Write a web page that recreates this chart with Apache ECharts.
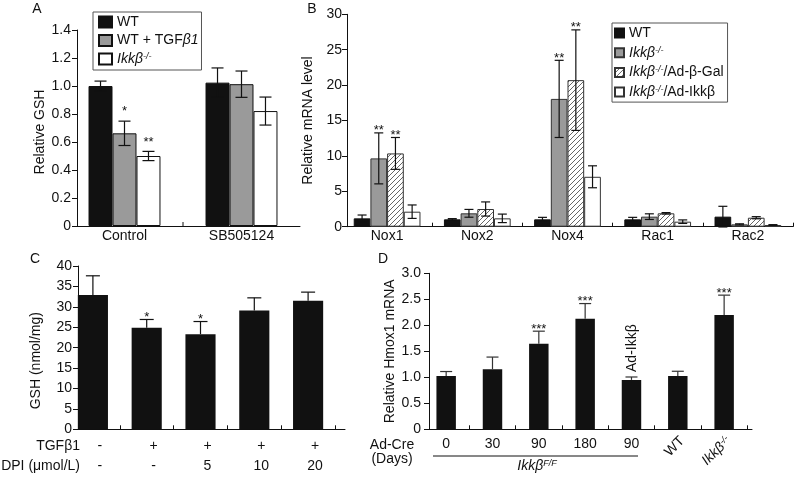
<!DOCTYPE html>
<html><head><meta charset="utf-8">
<script src="https://cdn.jsdelivr.net/npm/echarts@6/dist/echarts.min.js"></script>
<style>html,body{margin:0;padding:0;background:#fff}#c{width:794px;height:477px}</style>
</head><body><div id="c"></div>
<script>
// ---------- Panel A ----------
var aCats = ['Control', 'SB505124'];
var aWT = [1.0, 1.024];     var aWTErr = [0.035, 0.105];
var aTGF = [0.662, 1.013];  var aTGFErr = [0.087, 0.094];
var aKO = [0.5, 0.821];     var aKOErr = [0.033, 0.1];
var aTGFStar = ['*', ''];   var aKOStar = ['**', ''];
// ---------- Panel B ----------
var bCats = ['Nox1', 'Nox2', 'Nox4', 'Rac1', 'Rac2'];
var bWT  = [1.18, 1.04, 1.04, 1.04, 1.42];   var bWTErr  = [0.47, 0.1, 0.28, 0.28, 1.46];
var bKO  = [9.65, 1.89, 18.05, 1.42, 0.33];  var bKOErr  = [3.6, 0.55, 5.45, 0.4, 0.08];
var bGal = [10.35, 2.5, 20.7, 1.89, 1.27];   var bGalErr = [2.25, 1.0, 7.1, 0.1, 0.15];
var bAd  = [2.12, 1.18, 7.05, 0.71, 0.24];   var bAdErr  = [0.95, 0.6, 1.55, 0.25, 0.05];
var bKOStar  = ['**', '', '**', '', ''];
var bGalStar = ['**', '', '**', '', ''];
// ---------- Panel C ----------
var cTGF = ['-', '+', '+', '+', '+'];
var cDPI = ['-', '-', '5', '10', '20'];
var cGSH = [32.9, 24.9, 23.3, 29.1, 31.5];
var cErr = [4.7, 2.0, 3.1, 3.1, 2.1];
var cStar = ['', '*', '*', '', ''];
// ---------- Panel D ----------
var dCats = ['0', '30', '90', '180', '90', 'WT', 'Ikkβ-/-'];
var dHmox = [1.026, 1.154, 1.647, 2.128, 0.95, 1.026, 2.2];
var dErr  = [0.085, 0.235, 0.24, 0.29, 0.056, 0.09, 0.38];
var dStar = ['', '', '***', '***', '', '', '***'];
var dNote = ['', '', '', '', 'Ad-Ikkβ', '', ''];

var FONT = '"Liberation Sans", Arial, sans-serif';
var INK = '#111';
var GRAY = '#9a9a9a';
var RICH = {
  i: {fontStyle: 'italic', fontSize: 14, fontFamily: FONT, color: INK, fill: INK},
  s: {fontStyle: 'italic', fontSize: 9, fontFamily: FONT, color: INK, fill: INK, verticalAlign: 'top'}
};
function rich(t) {
  return t.replace('Ikkβ-/-', '{i|Ikkβ}{s|-/-}');
}

// hatch pattern
var pc = document.createElement('canvas'); pc.width = 5; pc.height = 5;
var pctx = pc.getContext('2d');
pctx.fillStyle = '#fff'; pctx.fillRect(0, 0, 5, 5);
pctx.strokeStyle = '#666'; pctx.lineWidth = 1;
pctx.beginPath();
pctx.moveTo(0, 5); pctx.lineTo(5, 0);
pctx.moveTo(-1, 1); pctx.lineTo(1, -1);
pctx.moveTo(4, 6); pctx.lineTo(6, 4);
pctx.stroke();
var HATCH = {image: pc, repeat: 'repeat'};

function errSeries(o) {
  return {
    type: 'custom', xAxisIndex: o.axis, yAxisIndex: o.axis, z: 5, silent: true, clip: false,
    data: o.vals.map(function (v, i) { return [i, v]; }),
    renderItem: function (params, api) {
      var i = params.dataIndex, v = o.vals[i], e = o.errs[i];
      var base = api.coord([i, v]);
      var band = api.size([1, 0])[0];
      var bw = band * (1 - o.gap) / o.n;
      var x = base[0] + (o.pos - (o.n - 1) / 2) * bw;
      var top = api.coord([i, v + e])[1];
      var bot = o.both ? api.coord([i, v - e])[1] : base[1];
      var st = {stroke: o.color || INK, lineWidth: 1.2};
      var ch = [];
      if (e > 0) {
        ch.push({type: 'line', shape: {x1: x, y1: top, x2: x, y2: bot}, style: st});
        ch.push({type: 'line', shape: {x1: x - o.cap / 2, y1: top, x2: x + o.cap / 2, y2: top}, style: st});
        if (o.both) ch.push({type: 'line', shape: {x1: x - o.cap / 2, y1: bot, x2: x + o.cap / 2, y2: bot}, style: st});
      }
      if (o.stars && o.stars[i]) {
        ch.push({type: 'text', x: x, y: top - o.starGap, style: {text: o.stars[i], align: 'center', verticalAlign: 'middle', font: '13px ' + FONT, fill: INK}});
      }
      if (o.extra) o.extra(ch, i, x, top, base, api);
      return {type: 'group', children: ch};
    }
  };
}

function frameY(g, min, max, interval, name, gap, margin, fmt, pad) {
  return {
    type: 'value', gridIndex: g, min: min, max: max, interval: interval,
    name: name, nameLocation: 'middle', nameGap: gap,
    nameTextStyle: {fontSize: 14, color: INK, fontFamily: FONT, padding: pad || 0},
    axisLine: {show: true, lineStyle: {color: INK, width: 1}},
    axisTick: {show: true, inside: false, length: 5, lineStyle: {color: INK, width: 1}},
    axisLabel: {fontSize: 14, color: INK, fontFamily: FONT, margin: margin, formatter: fmt},
    splitLine: {show: false}
  };
}
function dataY(g, min, max) {
  return {type: 'value', gridIndex: g, min: min, max: max, show: false, splitLine: {show: false}};
}
function frameX(g) {
  return {type: 'value', gridIndex: g, min: 0, max: 1, axisLine: {show: true, onZero: false, lineStyle: {color: INK, width: 1}},
    axisTick: {show: false}, axisLabel: {show: false}, splitLine: {show: false}};
}
function dataX(g, cats, label, showTicks) {
  return {
    type: 'category', gridIndex: g, data: cats,
    axisLine: {show: false},
    axisTick: {show: showTicks, inside: true, length: 4, interval: function (idx) { return idx !== 0; }, lineStyle: {color: INK, width: 1}},
    axisLabel: label, splitLine: {show: false}
  };
}
var dec1 = function (v) { return v === 0 ? '0' : v.toFixed(1); };
var int0 = function (v) { return String(v); };

var grids = [
  {left: 77, top: 30, width: 223, height: 196},      // 0 A frame
  {left: 66, top: 30, width: 234, height: 196},      // 1 A data
  {left: 347, top: 14.3, width: 446, height: 212.4}, // 2 B frame
  {left: 342, top: 14.3, width: 451, height: 212.4}, // 3 B data
  {left: 78, top: 266, width: 267, height: 163.3},   // 4 C frame
  {left: 66, top: 266, width: 269, height: 163.3},   // 5 C data
  {left: 429, top: 273.3, width: 323, height: 156},  // 6 D frame
  {left: 423, top: 273.3, width: 324.3, height: 156} // 7 D data
];
grids.forEach(function (g) { g.containLabel = false; g.outerBoundsMode = 'none'; });

var lblBase = {fontSize: 14, color: INK, fontFamily: FONT};

var option = {
  animation: false,
  textStyle: {fontFamily: FONT},
  grid: grids,
  xAxis: [
    frameX(0),
    dataX(1, aCats, Object.assign({margin: 3}, lblBase), false),
    frameX(2),
    dataX(3, bCats, Object.assign({margin: 2}, lblBase), true),
    frameX(4),
    dataX(5, cTGF.map(function (t, i) { return t + '\n' + cDPI[i]; }),
      Object.assign({margin: 7, lineHeight: 20, padding: [0, 0, 0, 14]}, lblBase), true),
    frameX(6),
    dataX(7, dCats, Object.assign({margin: 8, formatter: function (v, i) { return i >= 5 ? '' : v; }}, lblBase), true)
  ],
  yAxis: [
    frameY(0, 0, 1.4, 0.2, 'Relative GSH', 29, 6, dec1, [0, 8, 0, 0]),
    dataY(1, 0, 1.4),
    frameY(2, 0, 30, 5, 'Relative mRNA level', 23, 5, int0),
    dataY(3, 0, 30),
    frameY(4, 0, 40, 5, 'GSH (nmol/mg)', 35, 6, int0, [0, 26, 0, 0]),
    dataY(5, 0, 40),
    frameY(6, 0, 3, 0.5, 'Relative Hmox1 mRNA', 26, 8, dec1),
    dataY(7, 0, 3)
  ],
  legend: [
    {
      data: ['aWT', 'aTGF', 'aKO'], orient: 'vertical', left: 93, top: 12,
      padding: [3, 3, 4, 5], itemWidth: 13, itemHeight: 11, itemGap: 4.5, icon: 'rect',
      selectedMode: false, borderColor: '#555', borderWidth: 1,
      formatter: function (n) { return {aWT: 'WT', aTGF: 'WT + TGF{i|β1}', aKO: rich('Ikkβ-/-')}[n]; },
      textStyle: {fontSize: 14, fontFamily: FONT, color: INK, lineHeight: 14, rich: RICH}
    },
    {
      data: ['bWT', 'bKO', 'bGal', 'bAd'], orient: 'vertical', left: 612, top: 23,
      padding: [3, 4, 3, 2], itemWidth: 9, itemHeight: 9, itemGap: 5.7, icon: 'rect',
      selectedMode: false, borderColor: '#555', borderWidth: 1,
      formatter: function (n) {
        return {bWT: 'WT', bKO: rich('Ikkβ-/-'), bGal: rich('Ikkβ-/-') + '/Ad-β-Gal', bAd: rich('Ikkβ-/-') + '/Ad-Ikkβ'}[n];
      },
      textStyle: {fontSize: 14, fontFamily: FONT, color: INK, lineHeight: 14, rich: RICH}
    }
  ],
  graphic: [
    {type: 'text', x: 37, y: 9, style: {text: 'A', font: '14px ' + FONT, fill: INK, align: 'center', verticalAlign: 'middle'}},
    {type: 'text', x: 312, y: 9, style: {text: 'B', font: '14px ' + FONT, fill: INK, align: 'center', verticalAlign: 'middle'}},
    {type: 'text', x: 35, y: 259, style: {text: 'C', font: '14px ' + FONT, fill: INK, align: 'center', verticalAlign: 'middle'}},
    {type: 'text', x: 383, y: 259, style: {text: 'D', font: '14px ' + FONT, fill: INK, align: 'center', verticalAlign: 'middle'}},
    {type: 'text', x: 80, y: 446, style: {text: 'TGFβ1', font: '14px ' + FONT, fill: INK, align: 'right', verticalAlign: 'middle'}},
    {type: 'text', x: 80, y: 466, style: {text: 'DPI (μmol/L)', font: '14px ' + FONT, fill: INK, align: 'right', verticalAlign: 'middle'}},
    {type: 'text', x: 392, y: 445, style: {text: 'Ad-Cre', font: '14px ' + FONT, fill: INK, align: 'center', verticalAlign: 'middle'}},
    {type: 'text', x: 392, y: 459, style: {text: '(Days)', font: '14px ' + FONT, fill: INK, align: 'center', verticalAlign: 'middle'}},
    {type: 'line', shape: {x1: 433, y1: 456, x2: 638, y2: 456}, style: {stroke: INK, lineWidth: 1}},
    {type: 'text', x: 537, y: 466, style: {text: '{i|Ikkβ}{s|F/F}', rich: RICH, font: '14px ' + FONT, fill: INK, align: 'center', verticalAlign: 'middle'}}
  ],
  series: [
    // A
    {type: 'bar', name: 'aWT', xAxisIndex: 1, yAxisIndex: 1, data: aWT, barGap: '0%', barCategoryGap: '38.5%',
      itemStyle: {color: INK, borderColor: INK, borderWidth: 1}},
    {type: 'bar', name: 'aTGF', xAxisIndex: 1, yAxisIndex: 1, data: aTGF, barGap: '0%', barCategoryGap: '38.5%',
      itemStyle: {color: GRAY, borderColor: INK, borderWidth: 1}},
    {type: 'bar', name: 'aKO', xAxisIndex: 1, yAxisIndex: 1, data: aKO, barGap: '0%', barCategoryGap: '38.5%',
      itemStyle: {color: '#fff', borderColor: INK, borderWidth: 1}},
    errSeries({axis: 1, vals: aWT, errs: aWTErr, pos: 0, n: 3, gap: 0.385, cap: 12, both: true,
      extra: function (ch, i, x, top, base, api) {
        if (i === 1) {
          var bx = (api.coord([0, 0])[0] + api.coord([1, 0])[0]) / 2;
          var by = api.coord([1, 0])[1];
          ch.push({type: 'line', shape: {x1: bx, y1: by, x2: bx, y2: by - 4}, style: {stroke: INK, lineWidth: 1}});
        }
      }}),
    errSeries({axis: 1, vals: aTGF, errs: aTGFErr, pos: 1, n: 3, gap: 0.385, cap: 12, both: true, stars: aTGFStar, starGap: 10}),
    errSeries({axis: 1, vals: aKO, errs: aKOErr, pos: 2, n: 3, gap: 0.385, cap: 12, both: true, stars: aKOStar, starGap: 9}),
    // B
    {type: 'bar', name: 'bWT', xAxisIndex: 3, yAxisIndex: 3, data: bWT, barGap: '0%', barCategoryGap: '26%',
      itemStyle: {color: INK, borderColor: INK, borderWidth: 1}},
    {type: 'bar', name: 'bKO', xAxisIndex: 3, yAxisIndex: 3, data: bKO, barGap: '0%', barCategoryGap: '26%',
      itemStyle: {color: GRAY, borderColor: '#333', borderWidth: 1}},
    {type: 'bar', name: 'bGal', xAxisIndex: 3, yAxisIndex: 3, data: bGal, barGap: '0%', barCategoryGap: '26%',
      itemStyle: {color: HATCH, borderColor: '#333', borderWidth: 1}},
    {type: 'bar', name: 'bAd', xAxisIndex: 3, yAxisIndex: 3, data: bAd, barGap: '0%', barCategoryGap: '26%',
      itemStyle: {color: '#fff', borderColor: '#333', borderWidth: 1}},
    errSeries({axis: 3, vals: bWT, errs: bWTErr, pos: 0, n: 4, gap: 0.26, cap: 9, both: true}),
    errSeries({axis: 3, vals: bKO, errs: bKOErr, pos: 1, n: 4, gap: 0.26, cap: 9, both: true, stars: bKOStar, starGap: 2}),
    errSeries({axis: 3, vals: bGal, errs: bGalErr, pos: 2, n: 4, gap: 0.26, cap: 9, both: true, stars: bGalStar, starGap: 2}),
    errSeries({axis: 3, vals: bAd, errs: bAdErr, pos: 3, n: 4, gap: 0.26, cap: 9, both: true}),
    // C
    {type: 'bar', name: 'cGSH', xAxisIndex: 5, yAxisIndex: 5, data: cGSH, barCategoryGap: '44%',
      itemStyle: {color: INK}},
    errSeries({axis: 5, vals: cGSH, errs: cErr, pos: 0, n: 1, gap: 0.44, cap: 14, both: false, stars: cStar, starGap: 2}),
    // D
    {type: 'bar', name: 'dHmox', xAxisIndex: 7, yAxisIndex: 7, data: dHmox, barCategoryGap: '58%',
      itemStyle: {color: INK}},
    errSeries({axis: 7, vals: dHmox, errs: dErr, pos: 0, n: 1, gap: 0.58, cap: 12, both: false, stars: dStar, starGap: 2, color: '#333',
      extra: function (ch, i, x, top, base, api) {
        if (dNote[i]) {
          ch.push({type: 'text', x: x + 1, y: top - 5, rotation: Math.PI / 2,
            style: {text: dNote[i], align: 'left', verticalAlign: 'middle', font: '14px ' + FONT, fill: INK}});
        }
        if (i >= 5) {
          var y0 = api.coord([i, 0])[1];
          ch.push({type: 'text', x: x + 4.5, y: y0 + 9.5, rotation: Math.PI / 4,
            style: {text: rich(dCats[i]), rich: RICH, align: 'right', verticalAlign: 'middle', font: '14px ' + FONT, fill: INK}});
        }
      }})
  ]
};

var chart = echarts.init(document.getElementById('c'), null, {renderer: 'canvas'});
chart.setOption(option);
</script>
</body></html>
